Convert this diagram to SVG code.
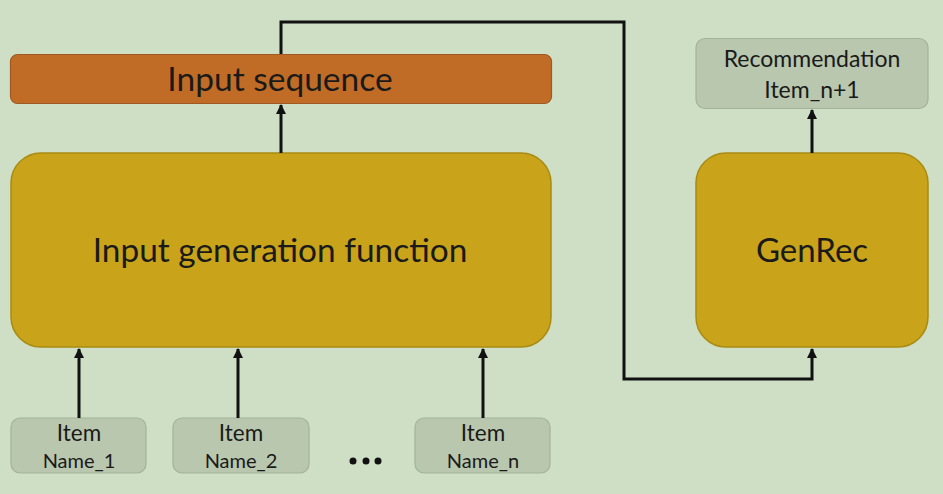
<svg xmlns="http://www.w3.org/2000/svg" width="943" height="494" viewBox="0 0 943 494">
<defs>
<marker id="ah" viewBox="0 0 10 10" refX="9" refY="5" markerWidth="10" markerHeight="10" markerUnits="userSpaceOnUse" orient="auto">
<path d="M0,0 L10,5 L0,10 z" fill="#111"/>
</marker>
<style>
.t{font-family:Lato,"Open Sans","Liberation Sans",sans-serif;fill:#1a1a1a;text-anchor:middle}
.gold{fill:#c9a319;stroke:#a98a12;stroke-width:1.5}
.grey{fill:#b8c7ae;stroke:#a2b39a;stroke-width:1.2}
.conn{fill:none;stroke:#111;stroke-width:3}
</style>
</defs>
<rect width="943" height="494" fill="#cfdfc5"/>
<g id="input-sequence">
<rect x="10.5" y="54.5" width="541" height="49" rx="7" fill="#c06c27" stroke="#9e5a22" stroke-width="1.2"/>
<text class="t" x="280" y="91" font-size="33.5">Input sequence</text>
</g>
<g id="input-generation">
<rect class="gold" x="11" y="153" width="540" height="194" rx="30"/>
<text class="t" x="280" y="262" font-size="33.4">Input generation function</text>
</g>
<g id="genrec">
<rect class="gold" x="696" y="153" width="232" height="194" rx="30"/>
<text class="t" x="812" y="262" font-size="33">GenRec</text>
</g>
<g id="recommendation">
<rect class="grey" x="696" y="38.5" width="232" height="70" rx="9"/>
<text class="t" x="812" y="67" font-size="23">Recommendation</text>
<text class="t" x="812" y="98" font-size="23">Item_n+1</text>
</g>
<g id="item1">
<rect class="grey" x="11" y="418" width="135" height="55" rx="9"/>
<text class="t" x="79" y="441" font-size="22.5">Item</text>
<text class="t" x="79" y="468" font-size="20">Name_1</text>
</g>
<g id="item2">
<rect class="grey" x="173" y="418" width="136" height="55" rx="9"/>
<text class="t" x="241" y="441" font-size="22.5">Item</text>
<text class="t" x="241" y="468" font-size="20">Name_2</text>
</g>
<g id="itemn">
<rect class="grey" x="415" y="418" width="135" height="55" rx="9"/>
<text class="t" x="483" y="441" font-size="22.5">Item</text>
<text class="t" x="483" y="468" font-size="20">Name_n</text>
</g>
<g id="ellipsis">
<circle cx="353" cy="461" r="3.5" fill="#111"/>
<circle cx="366" cy="461" r="3.5" fill="#111"/>
<circle cx="378" cy="461" r="3.5" fill="#111"/>
</g>
<g id="connectors">
<path class="conn" d="M281,153 V105" marker-end="url(#ah)"/>
<path class="conn" d="M812,153 V110" marker-end="url(#ah)"/>
<path class="conn" d="M79,418 V349" marker-end="url(#ah)"/>
<path class="conn" d="M238,418 V349" marker-end="url(#ah)"/>
<path class="conn" d="M483,418 V349" marker-end="url(#ah)"/>
<path class="conn" d="M281,54 V22 H624 V379 H812 V349" marker-end="url(#ah)"/>
</g>
</svg>
